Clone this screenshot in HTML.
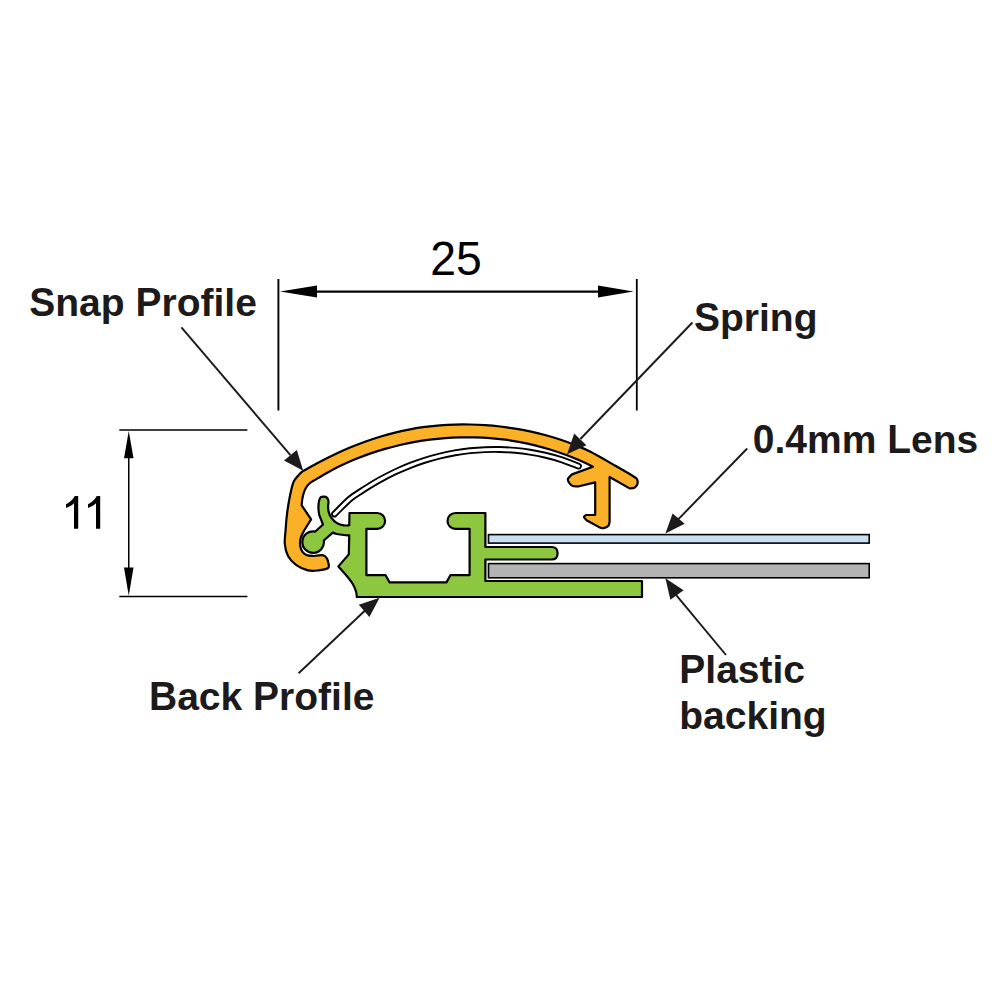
<!DOCTYPE html>
<html><head><meta charset="utf-8"><style>html,body{margin:0;padding:0;background:#fff;width:1000px;height:1000px;overflow:hidden}svg{display:block}</style></head>
<body><svg width="1000" height="1000" viewBox="0 0 1000 1000">
<g fill="none" stroke="#000" stroke-linecap="butt">
 <line x1="278.4" y1="279" x2="278.4" y2="410.5" stroke-width="1.9"/>
 <line x1="636.8" y1="279" x2="636.8" y2="410.5" stroke-width="1.8"/>
 <line x1="300" y1="291.7" x2="610" y2="291.7" stroke-width="2.2"/>
 <line x1="119.3" y1="430" x2="247.4" y2="430" stroke-width="1.5"/>
 <line x1="119.3" y1="596.5" x2="247.4" y2="596.5" stroke-width="1.5"/>
 <line x1="128.75" y1="445" x2="128.75" y2="582" stroke-width="1.5"/>
</g>
<g fill="#000" stroke="none">
 <path d="M280.00,291.50 L317.00,285.50 L317.00,297.50 Z"/>
 <path d="M633.50,291.50 L598.00,285.50 L598.00,297.50 Z"/>
 <path d="M128.75,431.00 L124.00,458.30 L133.50,458.30 Z"/>
 <path d="M128.75,595.80 L124.00,567.50 L133.50,567.50 Z"/>
</g>
<path d="M78.2,496 L78.2,528.75 L74,528.75 L74,503.3 C72,505.2 69,507 66,507.9 L66,504.3 C69.5,502.6 72.5,500 74.8,496 Z" fill="#000"/>
<path d="M78.2,496 L78.2,528.75 L74,528.75 L74,503.3 C72,505.2 69,507 66,507.9 L66,504.3 C69.5,502.6 72.5,500 74.8,496 Z" transform="translate(22,0)" fill="#000"/>
<rect x="488.5" y="534.6" width="380.7" height="8.5" fill="#c9e0f2" stroke="#000" stroke-width="1.6"/>
<rect x="488.5" y="563.6" width="380.7" height="14.2" fill="#b3b3b3" stroke="#000" stroke-width="1.6"/>
<path d="M349.50,513.00 L377.2,513 A7.9,7.9 0 0 1 377.2,528.8 L366.40,528.80 L366.40,575.20 L385.60,575.20 L389.60,582.40 L446.40,582.40 L450.40,575.20 L469.60,575.20 L469.60,528.80 L455.4,528.8 A7.9,7.9 0 0 1 455.4,513 L485.40,513.00 L485.40,547.00 L551.5,547 Q557.6,547 557.6,553.2 Q557.6,559.5 551.5,559.5 L485.40,559.50 L485.40,581.00 L642.00,581.00 L642.00,597.00 L356.80,597.00 C356.67,596.08 356.72,593.75 356.00,591.50 C355.28,589.25 354.17,586.25 352.50,583.50 C350.83,580.75 348.35,577.85 346.00,575.00 C343.65,572.15 339.67,567.83 338.40,566.40 L348.80,554.40 L349.25,535.40 C348.38,535.33 346.04,535.23 344.00,535.00 C341.96,534.77 338.87,534.40 337.00,534.00 C335.13,533.60 333.50,532.83 332.80,532.60 L323.80,540.50 A10.8,10.8 0 1 1 315.3,531.55 L323.00,524.55 C322.71,523.79 321.89,521.69 321.25,520.00 C320.61,518.31 319.62,516.50 319.15,514.40 C318.68,512.30 318.45,509.70 318.45,507.40 C318.45,505.10 318.74,502.30 319.15,500.60 C319.56,498.90 320.02,497.87 320.90,497.20 C321.77,496.53 323.35,496.47 324.40,496.60 C325.45,496.73 326.52,497.18 327.20,498.00 C327.88,498.82 328.35,500.17 328.50,501.50 C328.65,502.83 328.08,504.32 328.10,506.00 C328.12,507.68 328.05,509.62 328.60,511.60 C329.15,513.58 330.00,515.98 331.40,517.90 C332.80,519.82 334.90,521.90 337.00,523.15 C339.10,524.40 341.96,525.06 344.00,525.40 C346.04,525.74 348.38,525.23 349.25,525.20 Z" fill="#8dc63f" stroke="#000" stroke-width="2.2" stroke-linejoin="round"/>
<path d="M313.60,556.00 C315.07,555.87 320.27,554.93 322.40,555.20 C324.53,555.47 325.40,556.27 326.40,557.60 C327.40,558.93 328.13,561.47 328.40,563.20 C328.67,564.93 329.67,566.80 328.00,568.00 C326.33,569.20 321.73,570.00 318.40,570.40 C315.07,570.80 311.73,571.33 308.00,570.40 C304.27,569.47 299.33,567.20 296.00,564.80 C292.67,562.40 289.87,559.47 288.00,556.00 C286.13,552.53 285.20,548.33 284.80,544.00 C284.40,539.67 285.27,534.67 285.60,530.00 C285.93,525.33 286.27,520.67 286.80,516.00 C287.33,511.33 287.97,506.75 288.80,502.00 C289.63,497.25 290.93,491.00 291.80,487.50 C292.67,484.00 292.97,482.95 294.00,481.00 C295.03,479.05 296.53,477.43 298.00,475.80 C299.47,474.17 300.80,472.63 302.80,471.20 C304.80,469.77 307.13,468.80 310.00,467.24 C312.87,465.68 315.83,463.98 320.00,461.82 C324.17,459.66 330.00,456.67 335.00,454.29 C340.00,451.92 345.00,449.67 350.00,447.57 C355.00,445.47 360.00,443.51 365.00,441.70 C370.00,439.89 375.00,438.23 380.00,436.71 C385.00,435.19 390.00,433.83 395.00,432.60 C400.00,431.37 405.00,430.29 410.00,429.35 C415.00,428.41 420.00,427.62 425.00,426.95 C430.00,426.28 435.00,425.76 440.00,425.36 C445.00,424.96 450.00,424.69 455.00,424.54 C460.00,424.39 465.00,424.38 470.00,424.48 C475.00,424.58 480.00,424.80 485.00,425.14 C490.00,425.48 495.00,425.93 500.00,426.51 C505.00,427.09 510.00,427.78 515.00,428.60 C520.00,429.42 525.00,430.35 530.00,431.42 C535.00,432.49 540.00,433.69 545.00,435.04 C550.00,436.39 555.00,437.86 560.00,439.52 C565.00,441.18 570.00,442.97 575.00,444.98 C580.00,446.99 583.50,448.24 590.00,451.58 C596.50,454.92 606.60,460.76 614.00,465.00 C621.40,469.24 630.50,474.42 634.40,477.00 C638.30,479.58 636.93,479.25 637.40,480.50 C637.87,481.75 637.70,483.28 637.20,484.50 C636.70,485.72 635.67,487.15 634.40,487.80 C633.13,488.45 630.40,488.30 629.60,488.40 L609.60,477.00 L609.60,521.50 C609.40,522.22 609.42,524.68 608.40,525.80 C607.38,526.92 604.90,527.90 603.50,528.20 C602.10,528.50 600.58,527.70 600.00,527.60 L586.50,520.20 C586.07,519.67 583.98,517.87 583.90,517.00 C583.82,516.13 585.65,515.33 586.00,515.00 L595.20,514.80 L595.20,482.40 L579.00,486.30 C577.83,486.18 573.87,486.72 572.00,485.60 C570.13,484.48 567.80,481.47 567.80,479.60 C567.80,477.73 571.30,475.27 572.00,474.40 L593.00,466.70 C590.83,465.62 584.67,462.61 580.00,460.60 C575.33,458.59 570.00,456.42 565.00,454.57 C560.00,452.72 555.00,451.04 550.00,449.50 C545.00,447.96 540.00,446.58 535.00,445.35 C530.00,444.12 525.00,443.04 520.00,442.10 C515.00,441.16 510.00,440.36 505.00,439.70 C500.00,439.04 495.00,438.52 490.00,438.13 C485.00,437.74 480.00,437.50 475.00,437.37 C470.00,437.25 465.00,437.25 460.00,437.38 C455.00,437.51 450.00,437.76 445.00,438.14 C440.00,438.52 435.00,439.04 430.00,439.67 C425.00,440.31 420.00,441.06 415.00,441.95 C410.00,442.84 405.00,443.86 400.00,445.02 C395.00,446.18 390.00,447.46 385.00,448.90 C380.00,450.34 375.00,451.91 370.00,453.65 C365.00,455.39 360.00,457.27 355.00,459.34 C350.00,461.41 344.17,464.10 340.00,466.08 C335.83,468.06 333.00,469.60 330.00,471.21 C327.00,472.81 324.33,474.35 322.00,475.71 C319.67,477.06 318.00,478.12 316.00,479.34 C314.00,480.55 311.67,481.59 310.00,483.00 C308.33,484.41 307.07,486.05 306.00,487.80 C304.93,489.55 304.23,491.55 303.60,493.50 C302.97,495.45 302.52,497.53 302.20,499.50 C301.88,501.47 301.74,504.33 301.65,505.30 L311.10,519.30 L304.10,530.50 C303.52,531.78 301.24,535.62 300.60,538.20 C299.96,540.78 299.90,543.67 300.25,546.00 C300.60,548.33 301.57,550.67 302.70,552.20 C303.82,553.73 305.18,554.57 307.00,555.20 C308.82,555.83 312.50,555.87 313.60,556.00 Z" fill="#fab128" stroke="#000" stroke-width="2.2" stroke-linejoin="round"/>
<path d="M334.50,514.00 C337.08,511.48 345.75,502.56 350.00,498.88 C354.25,495.20 356.67,494.15 360.00,491.92 C363.33,489.69 366.67,487.57 370.00,485.53 C373.33,483.49 375.83,481.95 380.00,479.69 C384.17,477.43 390.00,474.35 395.00,471.98 C400.00,469.61 405.00,467.45 410.00,465.48 C415.00,463.51 420.00,461.75 425.00,460.16 C430.00,458.57 435.00,457.18 440.00,455.96 C445.00,454.74 450.00,453.71 455.00,452.84 C460.00,451.97 465.00,451.27 470.00,450.74 C475.00,450.21 480.00,449.84 485.00,449.64 C490.00,449.44 495.00,449.39 500.00,449.51 C505.00,449.63 510.00,449.91 515.00,450.36 C520.00,450.81 525.00,451.42 530.00,452.22 C535.00,453.02 540.00,453.97 545.00,455.14 C550.00,456.31 554.42,457.41 560.00,459.24 C565.58,461.07 575.42,464.97 578.50,466.11" fill="none" stroke="#000" stroke-width="6.8" stroke-linecap="round"/>
<path d="M334.50,514.00 C337.08,511.48 345.75,502.56 350.00,498.88 C354.25,495.20 356.67,494.15 360.00,491.92 C363.33,489.69 366.67,487.57 370.00,485.53 C373.33,483.49 375.83,481.95 380.00,479.69 C384.17,477.43 390.00,474.35 395.00,471.98 C400.00,469.61 405.00,467.45 410.00,465.48 C415.00,463.51 420.00,461.75 425.00,460.16 C430.00,458.57 435.00,457.18 440.00,455.96 C445.00,454.74 450.00,453.71 455.00,452.84 C460.00,451.97 465.00,451.27 470.00,450.74 C475.00,450.21 480.00,449.84 485.00,449.64 C490.00,449.44 495.00,449.39 500.00,449.51 C505.00,449.63 510.00,449.91 515.00,450.36 C520.00,450.81 525.00,451.42 530.00,452.22 C535.00,453.02 540.00,453.97 545.00,455.14 C550.00,456.31 554.42,457.41 560.00,459.24 C565.58,461.07 575.42,464.97 578.50,466.11" fill="none" stroke="#fff" stroke-width="3.0" stroke-linecap="round"/>
<g stroke="#1d1a1b" stroke-width="1.95" fill="none">
 <line x1="181.4" y1="327.4" x2="290.4" y2="455.2"/>
 <line x1="692.4" y1="322.5" x2="580.4" y2="439"/>
 <line x1="747.2" y1="448.5" x2="676" y2="521.6"/>
 <line x1="726" y1="655" x2="676" y2="594.8"/>
 <line x1="298.6" y1="673.2" x2="365.6" y2="610"/>
</g>
<g fill="#1d1a1b" stroke="none">
 <path d="M303.20,470.80 L284.00,460.40 L296.80,450.00 Z"/>
 <path d="M567.00,454.20 L574.20,433.40 L586.40,445.20 Z"/>
 <path d="M665.40,533.40 L672.60,513.40 L684.70,523.70 Z"/>
 <path d="M665.40,578.20 L670.40,599.80 L683.60,590.20 Z"/>
 <path d="M379.60,597.70 L358.80,604.80 L369.40,617.00 Z"/>
</g>
<text x="29.30" y="0" transform="translate(0,315.7) scale(1,1.035)" font-family="Liberation Sans, sans-serif" font-weight="bold" font-size="39" fill="#1d1a1b">S</text>
<text x="55.30" y="315.7" font-family="Liberation Sans, sans-serif" font-weight="bold" font-size="39" fill="#1d1a1b" xml:space="preserve">nap </text>
<text x="135.47" y="0" transform="translate(0,315.7) scale(1,1.035)" font-family="Liberation Sans, sans-serif" font-weight="bold" font-size="39" fill="#1d1a1b">P</text>
<text x="161.49" y="315.7" font-family="Liberation Sans, sans-serif" font-weight="bold" font-size="39" fill="#1d1a1b" xml:space="preserve">rofile</text>
<text x="694.00" y="0" transform="translate(0,330.8) scale(1,1.035)" font-family="Liberation Sans, sans-serif" font-weight="bold" font-size="39" fill="#1d1a1b">S</text>
<text x="720.00" y="330.8" font-family="Liberation Sans, sans-serif" font-weight="bold" font-size="39" fill="#1d1a1b" xml:space="preserve">pring</text>
<text x="752.80" y="0" transform="translate(0,452.7) scale(1,1.035)" font-family="Liberation Sans, sans-serif" font-weight="bold" font-size="39" fill="#1d1a1b">0</text>
<text x="774.49" y="452.7" font-family="Liberation Sans, sans-serif" font-weight="bold" font-size="39" fill="#1d1a1b" xml:space="preserve">.</text>
<text x="785.32" y="0" transform="translate(0,452.7) scale(1,1.035)" font-family="Liberation Sans, sans-serif" font-weight="bold" font-size="39" fill="#1d1a1b">4</text>
<text x="807.00" y="452.7" font-family="Liberation Sans, sans-serif" font-weight="bold" font-size="39" fill="#1d1a1b" xml:space="preserve">mm </text>
<text x="887.19" y="0" transform="translate(0,452.7) scale(1,1.035)" font-family="Liberation Sans, sans-serif" font-weight="bold" font-size="39" fill="#1d1a1b">L</text>
<text x="911.02" y="452.7" font-family="Liberation Sans, sans-serif" font-weight="bold" font-size="39" fill="#1d1a1b" xml:space="preserve">ens</text>
<text x="149.00" y="0" transform="translate(0,709.6) scale(1,1.035)" font-family="Liberation Sans, sans-serif" font-weight="bold" font-size="39" fill="#1d1a1b">B</text>
<text x="177.16" y="709.6" font-family="Liberation Sans, sans-serif" font-weight="bold" font-size="39" fill="#1d1a1b" xml:space="preserve">ack </text>
<text x="253.06" y="0" transform="translate(0,709.6) scale(1,1.035)" font-family="Liberation Sans, sans-serif" font-weight="bold" font-size="39" fill="#1d1a1b">P</text>
<text x="279.08" y="709.6" font-family="Liberation Sans, sans-serif" font-weight="bold" font-size="39" fill="#1d1a1b" xml:space="preserve">rofile</text>
<text x="679.30" y="0" transform="translate(0,683) scale(1,1.035)" font-family="Liberation Sans, sans-serif" font-weight="bold" font-size="39" fill="#1d1a1b">P</text>
<text x="705.30" y="683" font-family="Liberation Sans, sans-serif" font-weight="bold" font-size="39" fill="#1d1a1b" xml:space="preserve">lastic</text>
<text x="679.30" y="729" font-family="Liberation Sans, sans-serif" font-weight="bold" font-size="39" fill="#1d1a1b" xml:space="preserve">backing</text>
<text x="430.20" y="0" transform="translate(0,274.6) scale(1,1.035)" font-family="Liberation Sans, sans-serif" font-weight="normal" font-size="46.4" fill="#000">25</text>

</svg></body></html>
